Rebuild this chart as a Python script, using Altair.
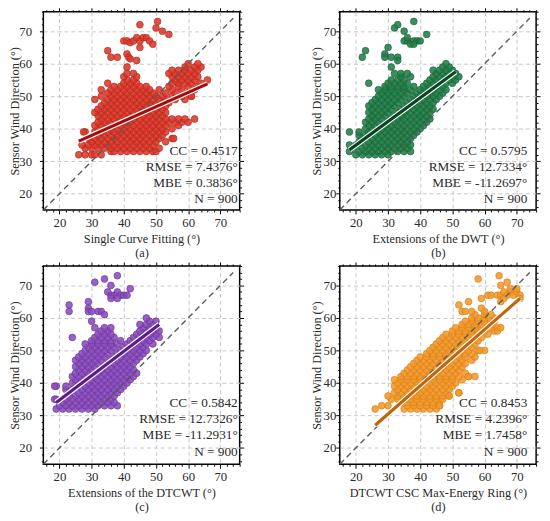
import altair as alt
import pandas as pd

FONT = "Liberation Serif"
DOMAIN = [15, 76]
MAJOR = [20, 30, 40, 50, 60, 70]
MINOR = [16, 18, 22, 24, 26, 28, 32, 34, 36, 38, 42, 44, 46, 48,
         52, 54, 56, 58, 62, 64, 66, 68, 72, 74, 76]
DIAG = [15, 74]
W, H = 200, 202

# ---------------- panel (a) Single Curve Fitting ----------------
a_rows = {
    32: [26, 28, 30, 31, 33],
    33: [36, 37, 39, 41, 43, 45, 47, 49, 50],
    34: [28, 30, 32, 34, 36, 38, 40, 42, 44, 46, 48, 51],
    35: [27, 29, 31, 33, 35, 37, 39, 41, 43, 45, 47, 49],
    36: [30, 32, 34, 36, 38, 40, 42, 44, 46, 48, 50, 53],
    37: [29, 31, 33, 35, 37, 39, 41, 43, 45, 47, 49, 51, 55],
    38: [32, 34, 36, 38, 40, 42, 44, 46, 48, 50, 52],
    39: [28, 31, 33, 35, 37, 39, 41, 43, 45, 47, 49, 51, 53],
    40: [32, 34, 36, 38, 40, 42, 44, 46, 48, 50, 52, 55],
    41: [31, 33, 35, 37, 39, 41, 43, 45, 47, 49, 51, 53, 57],
    42: [32, 34, 36, 38, 40, 42, 44, 46, 48, 50, 52, 54, 56, 58, 60],
    43: [33, 35, 37, 39, 41, 43, 45, 47, 49, 51, 53, 55, 57, 59, 62],
    44: [32, 34, 36, 38, 40, 42, 44, 46, 48, 50, 52],
    45: [31, 33, 35, 37, 39, 41, 43, 45, 47, 49, 51, 53],
    46: [32, 34, 36, 38, 40, 42, 44, 46, 48, 50, 52],
    47: [33, 35, 37, 39, 41, 43, 45, 47, 49, 51, 53],
    48: [34, 36, 38, 40, 42, 44, 46, 48, 50, 52, 54],
    49: [31, 35, 37, 39, 41, 43, 45, 47, 49, 51, 53, 56, 59],
    50: [33, 36, 38, 40, 42, 44, 46, 48, 50, 52, 55, 58, 61],
    51: [35, 37, 39, 41, 43, 45, 47, 49, 53, 56, 60],
    52: [33, 36, 38, 40, 42, 44, 46, 48, 51, 55, 58, 62],
    53: [37, 39, 41, 43, 45, 47, 54, 57, 60, 63],
    54: [35, 40, 42, 44, 55, 57, 59, 61, 64],
    55: [41, 43, 56, 58, 60, 62, 66],
    56: [40, 44, 55, 57, 59, 61, 63],
    57: [41, 43, 54, 56, 58, 60, 62],
    58: [55, 57, 59, 61, 63],
    59: [41, 59, 62, 64],
    60: [60, 63],
}
a_extra = [(45, 72), (50.5, 73), (50, 71), (52, 70), (54, 69), (40, 67), (41, 67),
           (42, 66.5), (43, 67), (44, 68), (45, 67), (46, 68), (47, 68), (48, 67),
           (49, 66), (45, 65), (35, 64), (36, 62), (38, 62), (41, 63), (41.5, 62),
           (42, 61.5), (44, 61), (55.5, 37), (61, 50), (27.5, 39)]
a_fit_x = [26, 66]
a_fit_y = [36.2, 53.8]
a_stats = ["CC = 0.4517", "RMSE = 7.4376°", "MBE = 0.3836°", "N = 900"]

# ---------------- panel (b) Extensions of the DWT ----------------
b_rows = {
    32: [20, 22, 24, 26, 28, 30],
    33: [18, 21, 23, 25, 27, 29, 31, 33, 35, 37],
    34: [19, 22, 24, 26, 28, 30, 32, 34, 36],
    35: [18, 20, 23, 25, 27, 29, 31, 33, 35, 37],
    36: [21, 24, 26, 28, 30, 32, 34, 36],
    37: [22, 25, 27, 29, 31, 33, 35, 37],
    38: [21, 23, 26, 28, 30, 32, 34, 36, 38],
    39: [18, 21, 24, 27, 29, 31, 33, 35, 37, 39],
    40: [23, 25, 28, 30, 32, 34, 36, 38, 40],
    41: [24, 26, 29, 31, 33, 35, 37, 39, 41],
    42: [23, 25, 27, 30, 32, 34, 36, 38, 40, 42],
    43: [24, 26, 28, 31, 33, 35, 37, 39, 41, 43],
    44: [25, 27, 29, 32, 34, 36, 38, 40, 42],
    45: [24, 26, 28, 30, 33, 35, 37, 39, 41, 43],
    46: [25, 27, 29, 31, 34, 36, 38, 40, 42, 44],
    47: [24, 26, 28, 30, 32, 35, 37, 39, 41, 43],
    48: [25, 27, 29, 31, 33, 36, 38, 40, 42, 44],
    49: [26, 28, 30, 32, 34, 37, 39, 41, 43, 45],
    50: [27, 29, 31, 33, 35, 38, 40, 42, 44, 46],
    51: [28, 30, 32, 34, 36, 39, 41, 43, 45, 47],
    52: [27, 29, 31, 33, 35, 37, 40, 42, 44, 46, 48],
    53: [29, 31, 33, 35, 38, 41, 43, 45, 47],
    54: [24, 30, 32, 34, 36, 42, 44, 46, 48, 50],
    55: [31, 33, 35, 43, 45, 47, 49, 51],
    56: [34, 37, 44, 46, 48, 50, 52],
    57: [32, 34, 36, 45, 47, 49, 51],
    58: [44, 46, 48, 50],
    59: [31, 47, 49],
    60: [48],
}
b_extra = [(22, 62), (23, 64), (29, 63), (30, 65), (29, 62), (31, 62), (33, 62),
           (33, 61), (32, 71), (33, 72), (35, 70), (38, 73), (42, 69), (35, 67),
           (36, 67), (37, 66), (38, 67), (39, 67), (40, 67), (36, 68), (38, 66)]
b_fit_x = [18, 51]
b_fit_y = [33.5, 57.5]
b_stats = ["CC = 0.5795", "RMSE = 12.7334°", "MBE = -11.2697°", "N = 900"]

# ---------------- panel (c) Extensions of the DTCWT ----------------
c_rows = {
    32: [19, 21, 23, 25, 27, 29, 31],
    33: [20, 22, 24, 26, 28, 30, 32, 34, 36, 38],
    34: [21, 23, 25, 27, 29, 31, 33, 35, 37],
    35: [19, 22, 24, 26, 28, 30, 32, 34, 36],
    36: [23, 25, 27, 29, 31, 33, 35, 37],
    37: [23, 26, 28, 30, 32, 34, 36, 38],
    38: [22, 24, 27, 29, 31, 33, 35, 37, 39],
    39: [19, 22, 25, 28, 30, 32, 34, 36, 38, 40],
    40: [24, 26, 29, 31, 33, 35, 37, 39, 41],
    41: [25, 27, 30, 32, 34, 36, 38, 40, 42],
    42: [24, 26, 28, 31, 33, 35, 37, 39, 41, 43],
    43: [25, 27, 29, 32, 34, 36, 38, 40, 42, 44],
    44: [26, 28, 30, 33, 35, 37, 39, 41, 43],
    45: [25, 27, 29, 31, 34, 36, 38, 40, 42],
    46: [26, 28, 30, 32, 35, 37, 39, 41, 43],
    47: [25, 27, 29, 31, 33, 36, 38, 40, 42, 44],
    48: [26, 28, 30, 32, 34, 37, 39, 41, 43, 45],
    49: [27, 29, 31, 33, 35, 38, 40, 42, 44, 46],
    50: [28, 30, 32, 34, 36, 39, 41, 43, 45, 47],
    51: [29, 31, 33, 35, 37, 40, 42, 44, 46],
    52: [28, 30, 32, 34, 36, 38, 41, 43, 45, 47, 49],
    53: [30, 32, 34, 36, 39, 42, 44, 46, 48],
    54: [24, 31, 33, 35, 37, 43, 45, 47, 49, 51],
    55: [32, 34, 36, 44, 46, 48, 50],
    56: [33, 35, 45, 47, 49, 51],
    57: [31, 34, 36, 46, 48, 50],
    58: [45, 47, 49],
    59: [30, 48, 50],
    60: [47],
}
c_extra = [(23, 64), (23, 62), (29, 65), (29, 63), (29, 62), (30, 62), (32, 62),
           (33, 62), (34, 61), (31, 71), (34, 72), (36, 70), (38, 73), (42, 69),
           (35, 68), (36, 67), (37, 67), (38, 68), (39, 67), (40, 67), (36, 66),
           (38, 66), (41, 67), (18.5, 39), (18.5, 35)]
c_fit_x = [19, 51]
c_fit_y = [34, 58]
c_stats = ["CC = 0.5842", "RMSE = 12.7326°", "MBE = -11.2931°", "N = 900"]

# ---------------- panel (d) DTCWT CSC Max-Energy Ring ----------------
d_rows = {
    32: [26, 35, 37, 39, 41, 43, 45],
    33: [28, 30, 36, 38, 40, 42, 44, 46],
    34: [34, 36, 38, 40, 42, 44, 46],
    35: [31, 33, 35, 37, 39, 41, 43, 45, 47],
    36: [30, 33, 35, 37, 39, 41, 43, 45, 47, 49],
    37: [32, 34, 36, 38, 40, 42, 44, 46, 48, 52],
    38: [33, 35, 37, 39, 41, 43, 45, 47, 49],
    39: [32, 34, 36, 38, 40, 42, 44, 46, 48, 50],
    40: [33, 35, 37, 39, 41, 43, 45, 47, 49, 51],
    41: [32, 34, 36, 38, 40, 42, 44, 46, 48, 50, 53],
    42: [34, 36, 38, 40, 42, 44, 46, 48, 50, 52, 55, 57],
    43: [35, 37, 39, 41, 43, 45, 47, 49, 51, 54],
    44: [36, 38, 40, 42, 44, 46, 48, 50, 52],
    45: [37, 39, 41, 43, 45, 47, 49, 51, 53],
    46: [38, 40, 42, 44, 46, 48, 50, 52, 54],
    47: [39, 41, 43, 45, 47, 49, 51, 53, 56],
    48: [40, 42, 44, 46, 48, 50, 52, 54, 57],
    49: [42, 44, 46, 48, 50, 52, 54, 56],
    50: [43, 45, 47, 49, 51, 53, 55, 58, 60],
    51: [44, 46, 48, 50, 52, 54, 56],
    52: [45, 47, 49, 51, 53, 55, 57],
    53: [46, 48, 50, 52, 54, 56, 58],
    54: [47, 49, 51, 53, 55, 57, 59],
    55: [48, 50, 52, 54, 56, 58, 61],
    56: [50, 52, 54, 56, 58, 60, 63],
    57: [51, 53, 55, 57, 59, 62, 64],
    58: [53, 55, 57, 59, 61],
    59: [54, 56, 58, 60, 62],
    60: [56, 58, 60, 63],
    61: [57, 60, 62],
}
d_extra = [(52, 64), (53, 62), (55, 65), (54, 62), (56, 62), (58, 72), (59, 66),
           (59, 63), (60, 62), (61, 67), (62, 67), (64, 67), (65, 67), (66, 68),
           (67, 67), (68, 68), (69, 67), (70, 68), (71, 67), (71, 66), (64.5, 73),
           (65, 70), (67, 71), (68, 69), (70, 69), (65, 65), (66, 66), (58.5, 50),
           (55, 42), (52, 37), (49, 36), (46, 33), (63, 59), (62, 58), (64, 56),
           (65, 57)]
d_fit_x = [26, 71]
d_fit_y = [27, 66]
d_stats = ["CC = 0.8453", "RMSE = 4.2396°", "MBE = 1.7458°", "N = 900"]

TXT = "#2a2a2a"


def tick_axis(orient, values, size):
    return alt.Axis(orient=orient, values=values, labels=False, domain=False,
                    grid=False, ticks=True, tickSize=size, tickColor="black",
                    tickWidth=1, title=None, zindex=2)


def panel(rows, extra, fit_x, fit_y, fill, stroke, line_col, xtitle, letter,
          stats, lpad, tpad, tx, ty):
    recs = [(x, y) for y, xs in rows.items() for x in xs] + list(extra)
    pts = pd.DataFrame(recs, columns=["x", "y"])
    sc = alt.Scale(domain=DOMAIN, nice=False, zero=False)
    common = dict(values=MAJOR, ticks=True, tickSize=4, tickColor="black",
                  tickWidth=1, domain=False, grid=True,
                  gridColor="#c6c6c6", gridDash=[4, 3], gridWidth=1,
                  labelFont=FONT, titleFont=FONT, labelFontSize=13,
                  titleFontSize=12.5, labelColor=TXT, titleColor=TXT,
                  titleFontWeight="normal", zindex=0)
    ax_x = alt.Axis(title=[xtitle, letter], titleLineHeight=14, labelPadding=3,
                    titlePadding=3, **common)
    ax_y = alt.Axis(title="Sensor Wind Direction (°)", labelPadding=lpad,
                    titlePadding=tpad, **common)
    points = alt.Chart(pts).mark_circle(
        size=48, color=fill, fillOpacity=0.88, stroke=stroke, strokeWidth=0.7,
        strokeOpacity=0.9
    ).encode(x=alt.X("x:Q", scale=sc, axis=ax_x),
             y=alt.Y("y:Q", scale=sc, axis=ax_y))

    diag_df = pd.DataFrame({"x": DIAG, "y": DIAG})
    diag = alt.Chart(diag_df).mark_line(
        color="#5a5a5a", strokeDash=[6, 4], strokeWidth=1.4
    ).encode(x=alt.X("x:Q", scale=sc, axis=tick_axis("bottom", MINOR, 2)),
             y=alt.Y("y:Q", scale=sc, axis=tick_axis("left", MINOR, 2)))

    fit_df = pd.DataFrame({"x": fit_x, "y": fit_y})
    halo = alt.Chart(fit_df).mark_line(color="white", strokeWidth=5.5).encode(
        x=alt.X("x:Q", scale=sc, axis=tick_axis("top", MAJOR, 4)),
        y=alt.Y("y:Q", scale=sc, axis=tick_axis("right", MAJOR, 4)))
    core = alt.Chart(fit_df).mark_line(color=line_col, strokeWidth=3.2).encode(
        x=alt.X("x:Q", scale=sc, axis=tick_axis("top", MINOR, 2)),
        y=alt.Y("y:Q", scale=sc, axis=tick_axis("right", MINOR, 2)))

    text = alt.Chart(pd.DataFrame({"k": [0]})).mark_text(
        align="right", baseline="alphabetic", font=FONT, fontSize=13.5,
        lineHeight=16.4, color=TXT
    ).encode(x=alt.value(tx), y=alt.value(ty), text=alt.value(stats))

    return alt.layer(points, diag, halo, core, text).resolve_axis(
        x="independent", y="independent").properties(width=W, height=H)


pa = panel(a_rows, a_extra, a_fit_x, a_fit_y, "#d93a2b", "#b3261a", "#a10d10",
           "Single Curve Fitting (°)", "(a)", a_stats, 8, -3, W - 2, 146)
pb = panel(b_rows, b_extra, b_fit_x, b_fit_y, "#237d47", "#17633a", "#0b4422",
           "Extensions of the DWT (°)", "(b)", b_stats, 0, 0, W - 9, 146)
pc = panel(c_rows, c_extra, c_fit_x, c_fit_y, "#8a4cbd", "#6c3499", "#5a1d86",
           "Extensions of the DTCWT (°)", "(c)", c_stats, 8, -3, W - 2, 144)
pd_ = panel(d_rows, d_extra, d_fit_x, d_fit_y, "#f2982b", "#d67e14", "#c0650c",
            "DTCWT CSC Max-Energy Ring (°)", "(d)", d_stats, 0, 0, W - 9, 144)

top = alt.hconcat(pa, pb, spacing=65)
bottom = alt.hconcat(pc, pd_, spacing=65)
chart = alt.vconcat(top, bottom, spacing=0,
                    padding={"left": 0, "top": -7, "right": 0, "bottom": 0}
                    ).configure_view(stroke="black", strokeWidth=1.5)

chart.save("out.html", embed_options={"renderer": "svg", "actions": False})
